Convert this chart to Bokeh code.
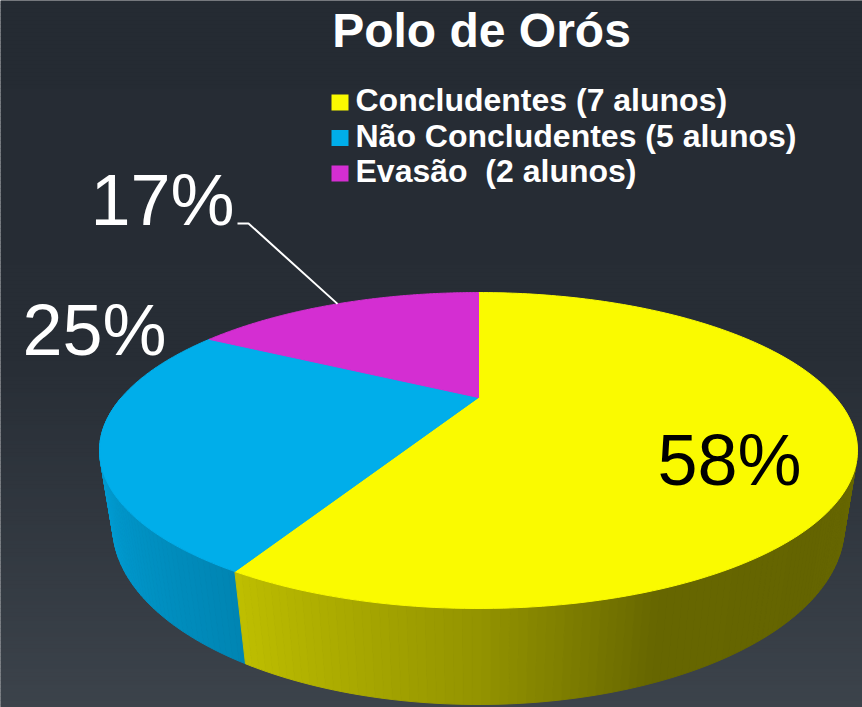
import numpy as np
from bokeh.plotting import figure
from bokeh.models import Range1d
from bokeh.embed import file_html
from bokeh.resources import INLINE
from bokeh.core.properties import value

# ---------------- data ----------------
title_text = "Polo de Orós"
categories = ["Concludentes (7 alunos)", "Não Concludentes (5 alunos)", "Evasão  (2 alunos)"]
percent = [58, 25, 17]
slice_colors = [(250, 250, 0), (0, 174, 234), (212, 46, 210)]
label_colors = ["black", "white", "white"]

# ---------------- layout constants (pixel space) ----------------
W_REF, H_REF = 862, 707
BASE_FIX = 0.35  # svg text baseline compensation (em)
label_anchor = [(657, 485), (22, 355), (90, 225)]
leader_start = [(237, 223), (248, 223)]
LABEL_FS, TITLE_FS, LEG_FS = 72, 48, 32

# perspective camera for the 3D pie
CX, CY = 478.0, 397.0
F = 978.6
L = 2.741
SPHI, CPHI = 0.3927, 0.9197
H = 0.2244
HC, DC = L * SPHI, L * CPHI


def proj(theta, y):
    x = np.cos(theta)
    z = np.sin(theta)
    zc = -(y - HC) * SPHI + (z + DC) * CPHI
    yc = (y - HC) * CPHI + (z + DC) * SPHI
    return CX + F * x / zc, CY - F * yc / zc, zc


def hexc(rgb):
    r, g, b = [int(max(0, min(255, round(c)))) for c in rgb]
    return "#%02x%02x%02x" % (r, g, b)


p = figure(width=W_REF, height=H_REF, x_range=Range1d(0, W_REF), y_range=Range1d(H_REF, 0),
           output_backend="svg", toolbar_location=None, x_axis_type=None, y_axis_type=None,
           min_border=0, outline_line_color=None)
p.grid.visible = False
p.background_fill_color = "#262c34"
p.border_fill_color = "#262c34"

# background vertical gradient
ys = np.arange(0, H_REF + 4, 4)
gy = [0, 350, 707]
cols_bg = []
for yy in ys[:-1]:
    c = [np.interp(yy, gy, [37, 39, 60]), np.interp(yy, gy, [43, 45, 67]), np.interp(yy, gy, [51, 53, 75])]
    cols_bg.append(hexc(c))
p.quad(left=0, right=W_REF, top=ys[:-1], bottom=ys[1:] + 0.5, fill_color=cols_bg, line_color=None)

# slice angles (start at 12 o'clock, clockwise)
total = float(sum(percent))
cum = np.concatenate([[0.0], np.cumsum(percent) / total])
t_start = np.pi / 2 - 2 * np.pi * cum[:-1]
t_end = np.pi / 2 - 2 * np.pi * cum[1:]

# side walls
shade_deg = [-180, -155, -120, -90, -70, -45, 0]
shade_val = [0.93, 0.90, 0.77, 0.59, 0.41, 0.40, 0.43]
quads = []
for i in range(len(percent)):
    n = max(4, int(abs(t_end[i] - t_start[i]) / np.radians(1.0)))
    th = np.linspace(t_start[i], t_end[i], n + 1)
    for a, b in zip(th[:-1], th[1:]):
        m = 0.5 * (a + b)
        if np.sin(m) > 0.02:
            continue
        xa0, ya0, _ = proj(a, 0.0)
        xb0, yb0, _ = proj(b, 0.0)
        xa1, ya1, _ = proj(a, -H)
        xb1, yb1, _ = proj(b, -H)
        _, _, depth = proj(m, 0.0)
        deg = (np.degrees(m) + 180) % 360 - 180
        f = np.interp(deg, shade_deg, shade_val)
        col = hexc([c * f for c in slice_colors[i]])
        quads.append((depth, [xa0, xb0, xb1, xa1], [ya0, yb0, yb1, ya1], col))
quads.sort(key=lambda q: -q[0])
p.patches(xs=[q[1] for q in quads], ys=[q[2] for q in quads], fill_color=[q[3] for q in quads],
          line_color=[q[3] for q in quads], line_width=1)

# top face
txs, tys, tcols = [], [], []
for i in range(len(percent)):
    th = np.linspace(t_start[i], t_end[i], 200)
    ax, ay, _ = proj(th, 0.0)
    txs.append([CX] + list(ax))
    tys.append([CY] + list(ay))
    tcols.append(hexc(slice_colors[i]))
p.patches(xs=txs, ys=tys, fill_color=tcols, line_color=tcols, line_width=1)

# leader line for the smallest slice
mid = 0.5 * (t_start[2] + t_end[2])
ex, ey, _ = proj(mid, 0.0)
p.line(x=[leader_start[0][0], leader_start[1][0], ex], y=[leader_start[0][1], leader_start[1][1], ey],
       line_color="white", line_width=2)

# percentage labels
p.text(x=[a[0] for a in label_anchor], y=[a[1] - BASE_FIX * LABEL_FS for a in label_anchor],
       text=["%d%%" % v for v in percent], text_color=label_colors,
       text_font=value("Liberation Sans"), text_font_size="%dpx" % LABEL_FS,
       text_align="left", text_baseline="alphabetic")

# title
p.text(x=[481], y=[47 - BASE_FIX * TITLE_FS], text=[title_text], text_color="white",
       text_font=value("Liberation Sans"), text_font_style="bold",
       text_font_size="%dpx" % TITLE_FS, text_align="center", text_baseline="alphabetic")

# legend
leg_y = [111 + 35.5 * i for i in range(len(categories))]
p.quad(left=331, right=348, top=[y - 17 for y in leg_y], bottom=[y - 1 for y in leg_y],
       fill_color=[hexc(c) for c in slice_colors], line_color=None)
p.text(x=[355] * len(categories), y=[y - BASE_FIX * LEG_FS for y in leg_y],
       text=[c.replace("  ", " \u00a0") for c in categories], text_color="white",
       text_font=value("Liberation Sans"), text_font_style="bold",
       text_font_size="%dpx" % LEG_FS, text_align="left", text_baseline="alphabetic")

open("out.html", "w").write(file_html(p, INLINE))
